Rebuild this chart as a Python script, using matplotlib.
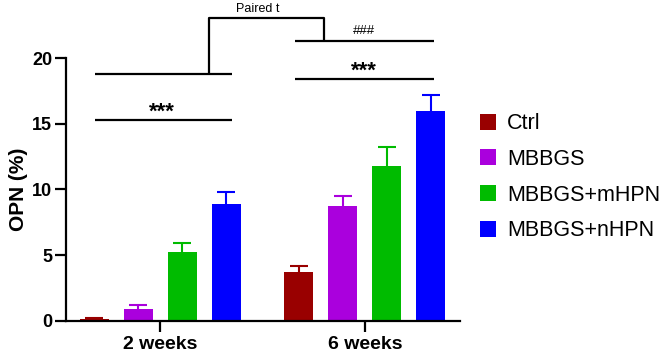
import matplotlib.pyplot as plt
import numpy as np

plt.rcParams['font.family'] = ['Liberation Sans', 'DejaVu Sans']

# data
groups = ['2 weeks', '6 weeks']
series = ['Ctrl', 'MBBGS', 'MBBGS+mHPN', 'MBBGS+nHPN']
colors = ['#990000', '#aa00dd', '#00bb00', '#0000ff']
means = [
    [0.15, 3.75],
    [0.94, 8.72],
    [5.25, 11.79],
    [8.90, 15.97],
]
errs = [
    [0.05, 0.43],
    [0.28, 0.76],
    [0.70, 1.44],
    [0.90, 1.22],
]
yticks = [0, 5, 10, 15, 20]


def add_bracket(ax, xs, ys, lw=1.6):
    ax.plot(xs, ys, color='black', lw=lw, clip_on=False, solid_capstyle='butt')


fig = plt.figure(figsize=(6.61, 3.55), dpi=100)
ax = fig.add_axes([0.0998, 0.0958, 0.596, 0.7408])

x = np.arange(len(groups))
step = 0.215
width = 0.142
for i, name in enumerate(series):
    pos = x + (i - 1.5) * step
    top = np.array(means[i]) + np.array(errs[i])
    ax.bar(pos, means[i], width=width, color=colors[i], label=name, zorder=2)
    # upward error bars only, cap at the top
    ax.vlines(pos, means[i], top, color=colors[i], lw=1.5, zorder=1)
    ax.plot(pos, top, ls='none', marker='_', markersize=13.5, mew=1.5,
            color=colors[i], zorder=1)

ax.set_xlim(-0.46, 1.464)
ax.set_ylim(0, 20)
ax.set_xticks(x)
ax.set_xticklabels(groups, fontsize=14, fontweight='bold')
ax.set_yticks(yticks)
ax.set_yticklabels([str(t) for t in yticks], fontsize=13, fontweight='bold')
ax.set_ylabel('OPN (%)', fontsize=15, fontweight='bold', labelpad=3)
ax.tick_params(axis='y', length=8, width=1.6, pad=2)
ax.tick_params(axis='x', length=8, width=1.6, pad=3)
for side in ['top', 'right']:
    ax.spines[side].set_visible(False)
for side in ['left', 'bottom']:
    ax.spines[side].set_linewidth(1.6)

# significance annotations
add_bracket(ax, [-0.32, 0.35], [15.28, 15.28])
ax.text(0.01, 15.45, '***', ha='center', va='baseline', fontsize=16, fontweight='bold')
add_bracket(ax, [0.657, 1.337], [18.4, 18.4])
ax.text(0.997, 18.6, '***', ha='center', va='baseline', fontsize=16, fontweight='bold')
add_bracket(ax, [0.657, 1.337], [21.29, 21.29])
ax.text(0.997, 21.6, '###', ha='center', va='bottom', fontsize=9.5)
add_bracket(ax, [-0.32, 0.35], [18.78, 18.78])
add_bracket(ax, [0.237, 0.237, 0.80, 0.80], [18.78, 23.04, 23.04, 21.29])
ax.text(0.477, 23.25, 'Paired t', ha='center', va='bottom', fontsize=9)

ax.legend(loc='upper left', bbox_to_anchor=(0.726, 0.681), bbox_transform=fig.transFigure,
          frameon=False, fontsize=15.5, handlelength=0.75, handleheight=0.75,
          handletextpad=0.5, labelspacing=0.68, borderpad=0, borderaxespad=0)

fig.savefig('out.png', dpi=100)
